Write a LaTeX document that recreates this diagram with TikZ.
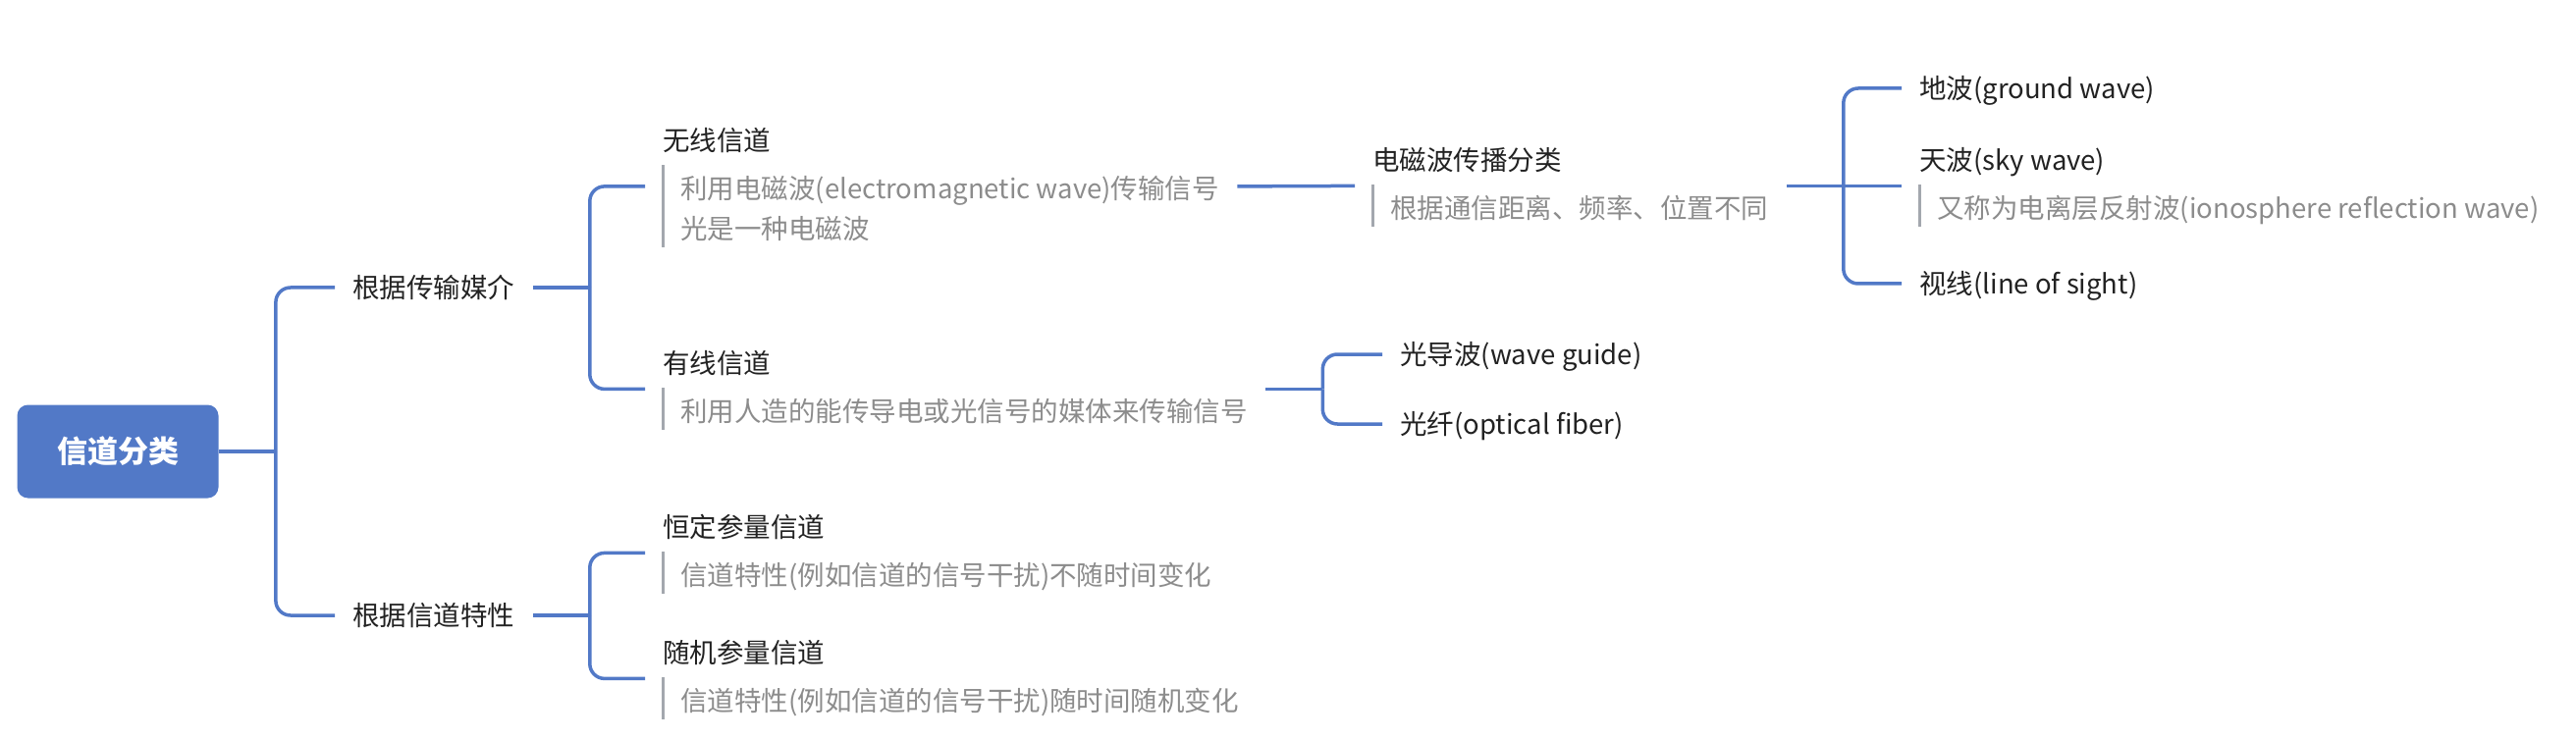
\documentclass[tikz,border=0pt]{standalone}
\usepackage{fontspec}
\setmainfont{Noto Sans CJK SC}
\usepackage{tikz}
\usetikzlibrary{calc,fit}

\definecolor{mapblue}{HTML}{5279C7}
\definecolor{notegray}{HTML}{8C8C8C}
\definecolor{bargray}{HTML}{A3A7AE}
\definecolor{titleblack}{HTML}{222222}

\tikzset{
  topic/.style={anchor=west, inner xsep=9pt, inner ysep=0pt, text height=12.7pt, text depth=2.3pt,
    text=titleblack, font=\fontsize{13.75pt}{16pt}\selectfont},
  note/.style={anchor=north west, inner xsep=9pt, inner ysep=0pt, text height=16.7pt, text depth=4.3pt,
    align=left, text=notegray, font=\fontsize{13.75pt}{20.5pt}\selectfont},
  block/.style={inner sep=0pt, outer sep=0pt},
  link/.style={draw=mapblue, line width=1.75pt, rounded corners=7.5pt},
  bar/.style={draw=bargray, line width=1.5pt},
}

\begin{document}
\begin{tikzpicture}[x=0.5pt,y=-0.5pt]
\useasboundingbox (0,0) rectangle (2624,754);
% root
\node[fill=mapblue, rounded corners=5.5pt, minimum width=102.5pt, minimum height=47.5pt, inner sep=0pt,
  text=white, font=\fontsize{15.5pt}{18pt}\selectfont\bfseries] (root) at (120,460) {信道分类};
% first level
\node[topic] (m1) at (341,293) {根据传输媒介};
\node[topic] (m2) at (341,627) {根据信道特性};
% by medium
\node[topic] (c1) at (657,143) {无线信道};
\node[note, text height=37.2pt] (n1) at ($(c1.south west)+(18,10)$) {利用电磁波(electromagnetic wave)传输信号\\光是一种电磁波};
\node[block, fit=(c1)(n1)] (b1) {};
\node[topic] (c2) at (657,370) {有线信道};
\node[note] (n2) at ($(c2.south west)+(18,10)$) {利用人造的能传导电或光信号的媒体来传输信号};
\node[block, fit=(c2)(n2)] (b2) {};
% wireless
\node[topic] (e1) at (1380,163) {电磁波传播分类};
\node[note] (n3) at ($(e1.south west)+(18,10)$) {根据通信距离、频率、位置不同};
\node[block, fit=(e1)(n3)] (b3) {};
\node[topic] (g1) at (1937,90) {地波(ground wave)};
\node[topic] (g2) at (1937,163) {天波(sky wave)};
\node[note] (n4) at ($(g2.south west)+(18,10)$) {又称为电离层反射波(ionosphere reflection wave)};
\node[block, fit=(g2)(n4)] (b4) {};
\node[topic] (g3) at (1937,289) {视线(line of sight)};
% wired
\node[topic] (f1) at (1408,361) {光导波(wave guide)};
\node[topic] (f2) at (1408,432) {光纤(optical fiber)};
% by property
\node[topic] (d1) at (657,537) {恒定参量信道};
\node[note] (n5) at ($(d1.south west)+(18,10)$) {信道特性(例如信道的信号干扰)不随时间变化};
\node[block, fit=(d1)(n5)] (b5) {};
\node[topic] (d2) at (657,665) {随机参量信道};
\node[note] (n6) at ($(d2.south west)+(18,10)$) {信道特性(例如信道的信号干扰)随时间随机变化};
\node[block, fit=(d2)(n6)] (b6) {};

% note bars
\foreach \n in {n1,n2,n3,n4,n5,n6}
  \draw[bar] (\n.north west) -- (\n.south west);

% connectors
\coordinate (j0) at ($(root.east)+(58,0)$);
\draw[link] (root.east) -- (j0);
\draw[link] (j0) |- (m1.west);
\draw[link] (j0) |- (m2.west);

\coordinate (j1) at ($(m1.east)+(58,0)$);
\draw[link] (m1.east) -- (j1);
\draw[link] (j1) |- (b1.west);
\draw[link] (j1) |- (b2.west);

\draw[link] (b1.east) -- (b3.west);

\coordinate (j3) at ($(b3.east)+(58,0)$);
\draw[link] (b3.east) -- (b4.west);
\draw[link] (j3) |- (g1.west);
\draw[link] (j3) |- (g3.west);

\coordinate (j2) at ($(b2.east)+(58,0)$);
\draw[link] (b2.east) -- (j2);
\draw[link] (j2) |- (f1.west);
\draw[link] (j2) |- (f2.west);

\coordinate (j4) at ($(m2.east)+(58,0)$);
\draw[link] (m2.east) -- (j4);
\draw[link] (j4) |- (b5.west);
\draw[link] (j4) |- (b6.west);
\end{tikzpicture}
\end{document}
